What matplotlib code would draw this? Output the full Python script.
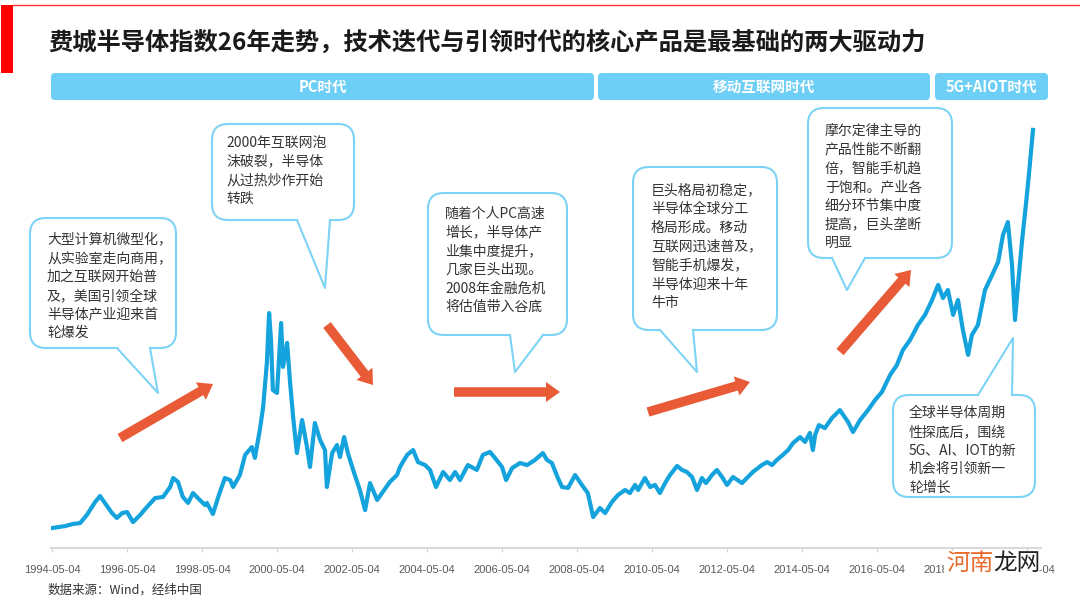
import matplotlib
matplotlib.use("Agg")
import matplotlib.pyplot as plt
from matplotlib.patches import FancyBboxPatch, Polygon, Rectangle, FancyArrow

plt.rcParams['font.family'] = ['Noto Sans CJK SC', 'DejaVu Sans']

# SOX index (decimal year, index level)
years = [1994.33, 1994.69, 1994.90, 1995.09, 1995.27, 1995.49, 1995.62, 1995.75, 1995.94, 1996.07,
         1996.21, 1996.34, 1996.50, 1996.69, 1996.87, 1997.09, 1997.30, 1997.49, 1997.57, 1997.70,
         1997.83, 1997.97, 1998.10, 1998.23, 1998.42, 1998.47, 1998.63, 1998.79, 1998.95, 1999.09,
         1999.17, 1999.35, 1999.49, 1999.67, 1999.75, 1999.89, 1999.97, 2000.07, 2000.13, 2000.18,
         2000.23, 2000.34, 2000.45, 2000.50, 2000.61, 2000.69, 2000.77, 2000.87, 2001.01, 2001.14,
         2001.22, 2001.35, 2001.49, 2001.62, 2001.67, 2001.81, 2001.94, 2002.02, 2002.13, 2002.23,
         2002.37, 2002.55, 2002.69, 2002.82, 2003.01, 2003.14, 2003.35, 2003.54, 2003.62, 2003.81,
         2003.97, 2004.10, 2004.29, 2004.42, 2004.58, 2004.77, 2004.95, 2005.09, 2005.22, 2005.43,
         2005.67, 2005.83, 2006.02, 2006.15, 2006.34, 2006.45, 2006.61, 2006.82, 2007.01, 2007.22,
         2007.43, 2007.54, 2007.67, 2007.83, 2007.94, 2008.10, 2008.29, 2008.47, 2008.63, 2008.77,
         2008.95, 2009.09, 2009.27, 2009.43, 2009.62, 2009.75, 2009.89, 2009.97, 2010.15, 2010.29,
         2010.42, 2010.55, 2010.69, 2010.82, 2011.01, 2011.14, 2011.27, 2011.41, 2011.54, 2011.67,
         2011.78, 2011.94, 2012.07, 2012.21, 2012.34, 2012.50, 2012.74, 2012.87, 2013.03, 2013.27,
         2013.41, 2013.54, 2013.67, 2013.83, 2013.97, 2014.10, 2014.29, 2014.42, 2014.55, 2014.63,
         2014.69, 2014.79, 2014.95, 2015.14, 2015.35, 2015.57, 2015.70, 2015.89, 2016.10, 2016.29,
         2016.47, 2016.69, 2016.87, 2017.03, 2017.22, 2017.43, 2017.62, 2017.81, 2017.97, 2018.10,
         2018.23, 2018.37, 2018.50, 2018.63, 2018.77, 2018.87, 2019.03, 2019.22, 2019.41, 2019.57,
         2019.70, 2019.83, 2019.94, 2020.02, 2020.10, 2020.21, 2020.31, 2020.39, 2020.45, 2020.50]
sox = [184, 195, 206, 211, 254, 323, 355, 318, 264, 238,
       264, 270, 216, 254, 296, 344, 350, 403, 451, 430,
       350, 318, 371, 344, 307, 318, 259, 360, 451, 440,
       403, 467, 574, 616, 558, 717, 829, 1064, 1330, 1186,
       920, 904, 1277, 1043, 1171, 957, 776, 584, 760, 616,
       510, 744, 653, 600, 403, 584, 627, 563, 669, 584,
       494, 387, 280, 424, 334, 371, 430, 467, 510, 574,
       600, 536, 520, 494, 403, 483, 440, 483, 440, 520,
       494, 574, 590, 558, 510, 440, 504, 531, 520, 547,
       584, 547, 531, 451, 403, 398, 467, 414, 370, 243,
       291, 264, 323, 360, 387, 371, 414, 387, 451, 403,
       414, 371, 424, 467, 515, 494, 483, 456, 387, 451,
       424, 467, 494, 456, 414, 456, 424, 451, 483, 520,
       536, 520, 547, 574, 600, 637, 669, 643, 691, 600,
       680, 733, 717, 771, 813, 749, 696, 760, 813, 867,
       909, 1000, 1053, 1133, 1186, 1266, 1320, 1400, 1480, 1410,
       1453, 1320, 1400, 1240, 1107, 1213, 1266, 1453, 1533, 1602,
       1746, 1815, 1586, 1293, 1480, 1719, 1906, 2066, 2199, 2306]

tick_years = list(range(1994, 2021, 2))
tick_labels = [f"{y}-05-04" for y in tick_years]
eras = ["PC时代", "移动互联网时代", "5G+AIOT时代"]

fig = plt.figure(figsize=(10.8, 6), dpi=100)

ax = fig.add_axes([50.5 / 1080, 52 / 600, 990 / 1080, 438 / 600])
ax.plot(years, sox, color='#14a3dc', lw=3, solid_joinstyle='round')
ax.set_xlim(1994.3, 2020.7)
ax.set_ylim(78, 2412)
ax.set_xticks([y + 0.34 for y in tick_years])
ax.set_xticklabels(tick_labels, family='Liberation Sans', fontsize=8, color='#595959')
ax.tick_params(axis='x', length=3, color='#d0d0d0', pad=9)
ax.set_yticks([])
for s in ['top', 'right', 'left']:
    ax.spines[s].set_visible(False)
ax.spines['bottom'].set_color('#d9d9d9')
ax.spines['bottom'].set_linewidth(1.5)

# overlay in pixel coordinates for the decorations
ov = fig.add_axes([0, 0, 1, 1])
ov.set_xlim(0, 1080)
ov.set_ylim(600, 0)
ov.axis('off')

ov.add_patch(Rectangle((1, 5), 12, 68, color='#ff0000', lw=0))
ov.plot([13, 1080], [5, 5], color='#ff3333', lw=1)
ov.text(48, 43, "费城半导体指数26年走势，技术迭代与引领时代的核心产品是最基础的两大驱动力",
        fontsize=17.5, weight='bold', color='#1a1a1a', va='center', ha='left')

era_x = [(51, 594), (598, 930), (935, 1048)]
for (a, b), name in zip(era_x, eras):
    ov.add_patch(FancyBboxPatch((a, 73), b - a, 27, boxstyle='round,pad=0,rounding_size=4',
                                fc='#6dcff6', ec='none'))
    ov.text((a + b) / 2, 87, name, color='white', fontsize=10.5, weight='bold',
            ha='center', va='center')

border = '#7dd3f5'


def callout(x0, y0, x1, y1, base, tip, lines, tx, ty, dy):
    ov.add_patch(FancyBboxPatch((x0, y0), x1 - x0, y1 - y0,
                                boxstyle='round,pad=0,rounding_size=16',
                                fc='white', ec=border, lw=1.5))
    by = base[2]
    inset = -1.5 if by == y1 else 1.5
    ov.add_patch(Polygon([(base[0], by + inset), tip, (base[1], by + inset)],
                         closed=True, fc='white', ec='none'))
    ov.plot([base[0], tip[0], base[1]], [by, tip[1], by], color=border, lw=1.5)
    for i, t in enumerate(lines):
        ov.text(tx, ty + i * dy, t, fontsize=10, color='#333333', ha='left', va='center')


callout(30, 218, 176, 348, (117, 150, 348), (158, 393),
        ["大型计算机微型化，", "从实验室走向商用，", "加之互联网开始普", "及，美国引领全球",
         "半导体产业迎来首", "轮爆发"], 47, 240, 18.6)
callout(212, 124, 354, 220, (297, 330, 220), (325, 288),
        ["2000年互联网泡", "沫破裂，半导体", "从过热炒作开始", "转跌"], 226, 143, 18.7)
callout(428, 193, 567, 335, (510, 543, 335), (515, 372),
        ["随着个人PC高速", "增长，半导体产", "业集中度提升，", "几家巨头出现。",
         "2008年金融危机", "将估值带入谷底"], 445, 214, 18.6)
callout(633, 167, 777, 330, (660, 693, 330), (697, 372),
        ["巨头格局初稳定，", "半导体全球分工", "格局形成。移动", "互联网迅速普及，",
         "智能手机爆发，", "半导体迎来十年", "牛市"], 651, 190, 18.9)
callout(808, 108, 952, 258, (832, 865, 258), (847, 290),
        ["摩尔定律主导的", "产品性能不断翻", "倍，智能手机趋", "于饱和。产业各",
         "细分环节集中度", "提高，巨头垄断", "明显"], 825, 131, 18.7)
callout(893, 395, 1035, 497, (978, 1012, 395), (1013, 338),
        ["全球半导体周期", "性探底后，围绕", "5G、AI、IOT的新", "机会将引领新一",
         "轮增长"], 909, 413, 18.8)

arrows = [((120, 438), (213, 384)), ((327, 325), (373, 385)), ((454, 392), (560, 392)),
          ((648, 412), (750, 382)), ((840, 352), (911, 270))]
for (xa, ya), (xb, yb) in arrows:
    ov.add_patch(FancyArrow(xa, ya, xb - xa, yb - ya, width=9.5, head_width=20,
                            head_length=14, length_includes_head=True,
                            fc='#e85b36', ec='none'))

ov.text(48, 590, "数据来源：Wind，经纬中国", fontsize=9, color='#333333', va='center')
# site watermark sitting over the last tick labels, as in the source image
ov.add_patch(Rectangle((944, 551), 95, 25, fc='white', ec='none', zorder=4))
ov.text(946, 563, "河南", fontsize=17, color='#e8692c', va='center', zorder=5)
ov.text(993, 563, "龙网", fontsize=17, color='#222222', va='center', zorder=5)

fig.savefig("out.png", dpi=100)
